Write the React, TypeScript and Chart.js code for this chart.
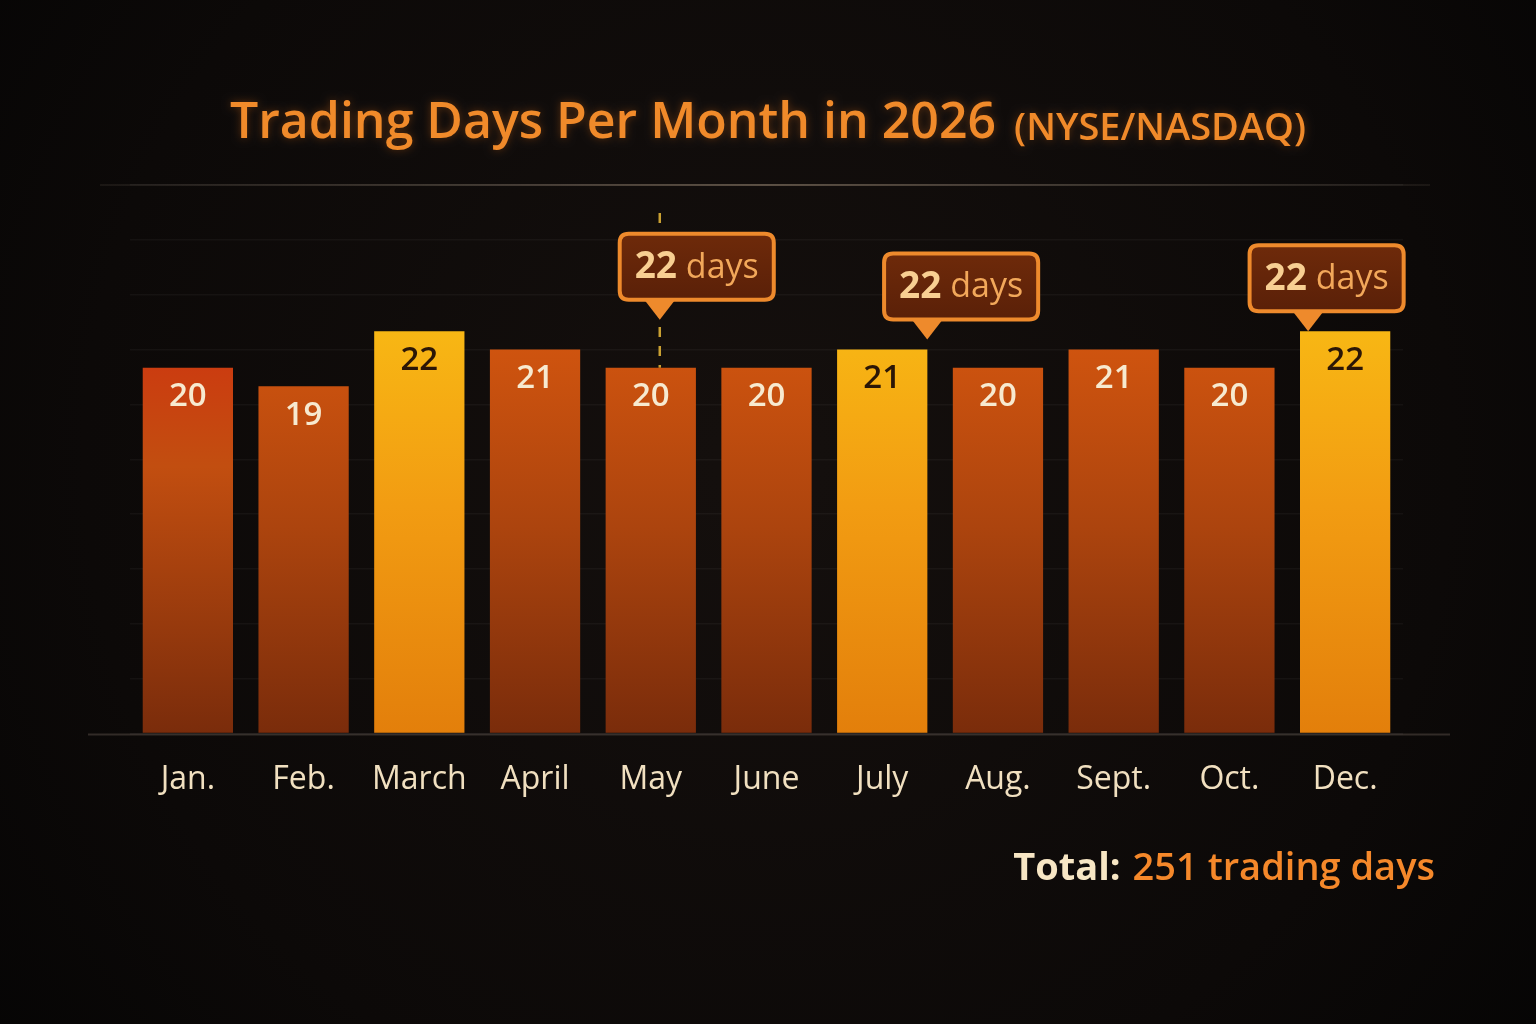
import { useEffect, useRef } from "react";
import { Chart, registerables } from "chart.js";

Chart.register(...registerables);

// ---- data ----
const MONTHS = ["Jan.", "Feb.", "March", "April", "May", "June", "July", "Aug.", "Sept.", "Oct.", "Dec."];
const TRADING_DAYS = [20, 19, 22, 21, 20, 20, 21, 20, 21, 20, 22];
const HIGHLIGHTED = ["March", "July", "Dec."];
const CALLOUT_MONTHS = ["May", "July", "Dec."];
const CALLOUT_NUMBERS = ["22", "22", "22"];
const CALLOUT_UNIT = "days";
const TITLE = "Trading Days Per Month in 2026";
const SUBTITLE = "(NYSE/NASDAQ)";
const TOTAL_LABEL = "Total:";
const TOTAL_VALUE = "251 trading days";
const Y_MAX = 30;

// ---- styles ----
const FONT = "'Open Sans', 'Noto Sans', sans-serif";
const CALLOUT_STYLE: Record<string, { dx: number; lift: number; anchor: number; dashed: boolean }> = {
  "May": { dx: 9, lift: 48, anchor: 0.26, dashed: true },
  "July": { dx: 45, lift: 10, anchor: 0.28, dashed: false },
  "Dec.": { dx: -37, lift: 0, anchor: 0.38, dashed: false },
};

function roundRect(ctx: CanvasRenderingContext2D, x: number, y: number, w: number, h: number, r: number) {
  ctx.beginPath();
  ctx.moveTo(x + r, y);
  ctx.lineTo(x + w - r, y);
  ctx.quadraticCurveTo(x + w, y, x + w, y + r);
  ctx.lineTo(x + w, y + h - r);
  ctx.quadraticCurveTo(x + w, y + h, x + w - r, y + h);
  ctx.lineTo(x + r, y + h);
  ctx.quadraticCurveTo(x, y + h, x, y + h - r);
  ctx.lineTo(x, y + r);
  ctx.quadraticCurveTo(x, y, x + r, y);
  ctx.closePath();
}

const decorPlugin = {
  id: "decor",
  beforeDraw(chart: any) {
    const { ctx, width, height, chartArea } = chart;
    ctx.save();
    const g = ctx.createRadialGradient(width / 2, height * 0.45, 50, width / 2, height * 0.45, width * 0.72);
    g.addColorStop(0, "#140f0d");
    g.addColorStop(0.6, "#0c0908");
    g.addColorStop(1, "#030303");
    ctx.fillStyle = g;
    ctx.fillRect(0, 0, width, height);
    // top rule
    const lg = ctx.createLinearGradient(100, 0, 1430, 0);
    lg.addColorStop(0, "rgba(90,80,70,0.2)");
    lg.addColorStop(0.5, "rgba(110,95,80,0.75)");
    lg.addColorStop(1, "rgba(90,80,70,0.2)");
    ctx.strokeStyle = lg;
    ctx.lineWidth = 2;
    ctx.beginPath();
    ctx.moveTo(100, chartArea.top);
    ctx.lineTo(1430, chartArea.top);
    ctx.stroke();
    // baseline
    ctx.strokeStyle = "rgba(60,52,48,0.8)";
    ctx.lineWidth = 2;
    ctx.beginPath();
    ctx.moveTo(88, chartArea.bottom + 1);
    ctx.lineTo(1450, chartArea.bottom + 1);
    ctx.stroke();
    ctx.restore();
  },
  beforeDatasetsDraw(chart: any) {
    const { ctx } = chart;
    const meta = chart.getDatasetMeta(0);
    ctx.save();
    CALLOUT_MONTHS.forEach((m) => {
      const st = CALLOUT_STYLE[m];
      if (!st || !st.dashed) return;
      const i = MONTHS.indexOf(m);
      const bar = meta.data[i];
      const x = bar.x + st.dx;
      ctx.strokeStyle = "#c9a032";
      ctx.lineWidth = 2.5;
      ctx.setLineDash([10, 9]);
      ctx.beginPath();
      ctx.moveTo(x, chart.chartArea.top + 28);
      ctx.lineTo(x, bar.y);
      ctx.stroke();
    });
    ctx.restore();
  },
  afterDatasetsDraw(chart: any) {
    const { ctx } = chart;
    const meta = chart.getDatasetMeta(0);
    ctx.save();
    // value labels
    ctx.textAlign = "center";
    ctx.textBaseline = "middle";
    ctx.font = `600 33px ${FONT}`;
    meta.data.forEach((bar: any, i: number) => {
      const hl = HIGHLIGHTED.includes(MONTHS[i]);
      ctx.fillStyle = hl ? "#2b1606" : "#f7ead0";
      ctx.fillText(String(TRADING_DAYS[i]), bar.x, bar.y + 29);
    });

    // callouts
    CALLOUT_MONTHS.forEach((m, k) => {
      const st = CALLOUT_STYLE[m];
      const i = MONTHS.indexOf(m);
      const bar = meta.data[i];
      const tipX = bar.x + st.dx;
      const tipY = bar.y - st.lift;
      const num = CALLOUT_NUMBERS[k];
      ctx.font = `700 37px ${FONT}`;
      const wNum = ctx.measureText(num).width;
      ctx.font = `400 34px ${FONT}`;
      const wUnit = ctx.measureText(" " + CALLOUT_UNIT).width;
      const boxW = wNum + wUnit + 30;
      const boxH = 66;
      const boxX = tipX - boxW * st.anchor;
      const boxY = tipY - 20 - boxH;
      // pointer
      ctx.fillStyle = "#ee8a2c";
      ctx.beginPath();
      ctx.moveTo(tipX - 17, boxY + boxH - 2);
      ctx.lineTo(tipX + 17, boxY + boxH - 2);
      ctx.lineTo(tipX, tipY);
      ctx.closePath();
      ctx.fill();
      // box
      roundRect(ctx, boxX, boxY, boxW, boxH, 9);
      const bg = ctx.createLinearGradient(0, boxY, 0, boxY + boxH);
      bg.addColorStop(0, "#6e2a0a");
      bg.addColorStop(1, "#5a2008");
      ctx.fillStyle = bg;
      ctx.fill();
      ctx.strokeStyle = "#ee8a2c";
      ctx.lineWidth = 4;
      ctx.stroke();
      // text
      ctx.textAlign = "left";
      ctx.textBaseline = "middle";
      const tx = boxX + 15;
      const ty = boxY + boxH / 2 + 1;
      ctx.font = `700 37px ${FONT}`;
      ctx.fillStyle = "#f8cf92";
      ctx.fillText(num, tx, ty);
      ctx.font = `400 34px ${FONT}`;
      ctx.fillStyle = "#f2a85a";
      ctx.fillText(" " + CALLOUT_UNIT, tx + wNum, ty);
    });

    // title
    ctx.textBaseline = "alphabetic";
    ctx.font = `600 50px ${FONT}`;
    const wT = ctx.measureText(TITLE).width;
    ctx.font = `600 38px ${FONT}`;
    const wS = ctx.measureText(SUBTITLE).width;
    const gap = 18;
    const total = wT + gap + wS;
    const x0 = 768 - total / 2;
    ctx.textAlign = "left";
    ctx.fillStyle = "#f08a2a";
    ctx.shadowColor = "rgba(240,120,30,0.35)";
    ctx.shadowBlur = 8;
    ctx.font = `600 50px ${FONT}`;
    ctx.fillText(TITLE, x0, 138);
    ctx.font = `600 38px ${FONT}`;
    ctx.fillText(SUBTITLE, x0 + wT + gap, 140);
    ctx.shadowBlur = 0;

    // total
    ctx.textAlign = "right";
    ctx.font = `600 38px ${FONT}`;
    ctx.fillStyle = "#f5882a";
    const rightX = 1435;
    ctx.fillText(TOTAL_VALUE, rightX, 880);
    const wV = ctx.measureText(TOTAL_VALUE).width;
    ctx.font = `700 38px ${FONT}`;
    ctx.fillStyle = "#f7e6c4";
    ctx.fillText(TOTAL_LABEL, rightX - wV - 12, 880);
    ctx.restore();
  },
};

function barColor(c: any) {
  const chart = c.chart;
  const area = chart.chartArea;
  const hl = HIGHLIGHTED.includes(MONTHS[c.dataIndex]);
  if (!area) return hl ? "#f2a012" : "#b0440e";
  const g = chart.ctx.createLinearGradient(0, area.top + area.height * 0.25, 0, area.bottom);
  if (hl) {
    g.addColorStop(0, "#f8b814");
    g.addColorStop(0.45, "#f29c12");
    g.addColorStop(1, "#e37f0b");
  } else if (c.dataIndex === 0) {
    g.addColorStop(0, "#cf3410");
    g.addColorStop(0.35, "#c24e10");
    g.addColorStop(1, "#7a2c0b");
  } else {
    g.addColorStop(0, "#d4560f");
    g.addColorStop(0.5, "#ac440e");
    g.addColorStop(1, "#7a2c0b");
  }
  return g;
}

export default function App() {
  const ref = useRef<HTMLCanvasElement | null>(null);
  useEffect(() => {
    document.body.style.margin = "0";
    document.body.style.background = "#0b0908";
    const chart = new Chart(ref.current as HTMLCanvasElement, {
      type: "bar",
      data: {
        labels: MONTHS,
        datasets: [
          {
            data: TRADING_DAYS,
            backgroundColor: barColor as any,
            borderWidth: 0,
            categoryPercentage: 0.78,
            barPercentage: 1,
          },
        ],
      },
      options: {
        animation: false,
        responsive: false,
        maintainAspectRatio: false,
        layout: { padding: { left: 130, right: 133, top: 185, bottom: 198 } },
        plugins: { legend: { display: false }, tooltip: { enabled: false }, title: { display: false } },
        scales: {
          x: {
            grid: { display: false, drawTicks: false },
            border: { display: false },
            ticks: { color: "#f1e0c0", font: { family: FONT, size: 32, weight: "400" as any }, padding: 27, maxRotation: 0, autoSkip: false },
          },
          y: {
            display: true,
            min: 0,
            max: Y_MAX,
            ticks: { display: false, stepSize: 3 },
            grid: { color: "rgba(255,255,255,0.04)", drawTicks: false, lineWidth: 1.5 },
            border: { display: false },
          },
        },
      },
      plugins: [decorPlugin],
    });
    return () => chart.destroy();
  }, []);
  return (
    <div style={{ width: 1536, height: 1024, background: "#0b0908" }}>
      <canvas ref={ref} width={1536} height={1024} style={{ display: "block", width: 1536, height: 1024 }} />
    </div>
  );
}
